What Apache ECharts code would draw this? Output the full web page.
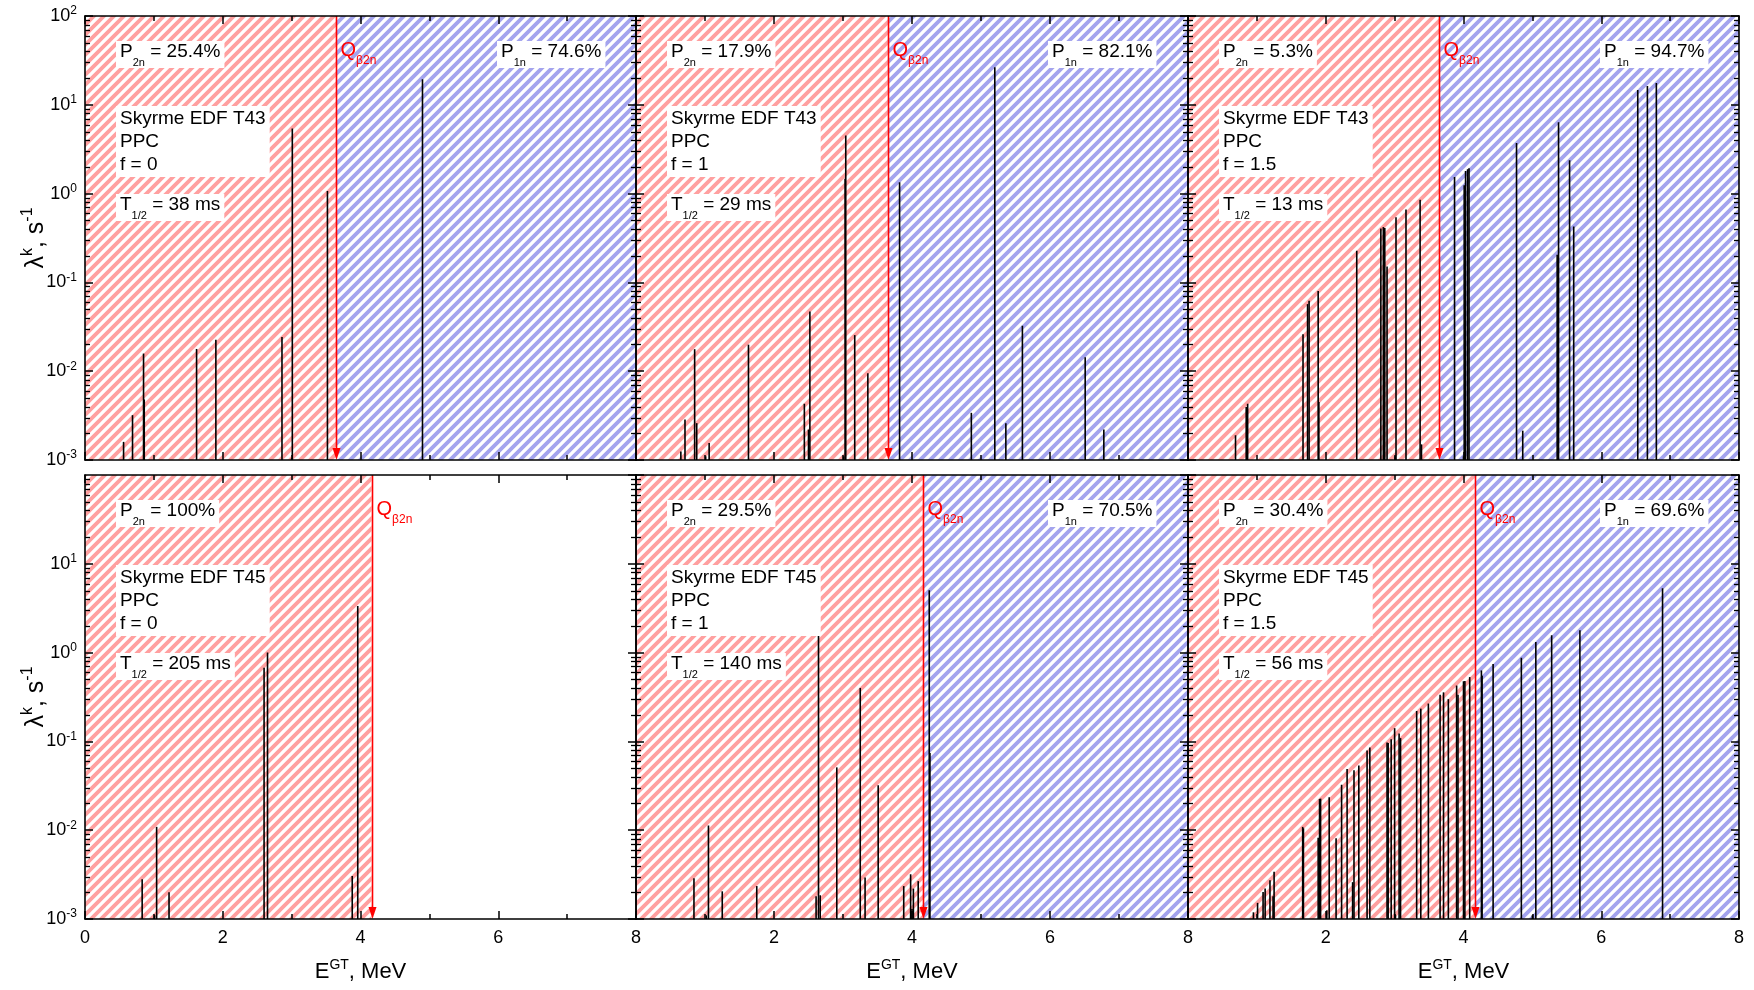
<!DOCTYPE html>
<html>
<head>
<meta charset="utf-8">
<title>GT decay rates</title>
<script src="https://cdn.jsdelivr.net/npm/echarts@6.0.0/dist/echarts.min.js"></script>
<style>
html,body{margin:0;padding:0;background:#ffffff;}
#chart{width:1754px;height:990px;}
</style>
</head>
<body>
<div id="chart"></div>
<script>
// ================= DATA =================
const xTicks = [0, 2, 4, 6, 8];
const yRange = [1e-3, 1e2];
const panelEdf = ['T43', 'T43', 'T43', 'T45', 'T45', 'T45'];
const panelF = ['0', '1', '1.5', '0', '1', '1.5'];
const panelP2n = ['25.4%', '17.9%', '5.3%', '100%', '29.5%', '30.4%'];
const panelP1n = ['74.6%', '82.1%', '94.7%', null, '70.5%', '69.6%'];
const panelHalfLife = ['38 ms', '29 ms', '13 ms', '205 ms', '140 ms', '56 ms'];
const qBeta2n = [3.65, 3.65, 3.65, 4.16, 4.16, 4.16];

// Skyrme EDF T43, f = 0
const energyT43f0 = [0.56, 0.69, 0.85, 0.86, 1.62, 1.90, 2.86, 3.00, 3.01, 3.52, 4.90];
const rateT43f0   = [1.6e-3, 3.2e-3, 0.0158, 4.8e-3, 0.0178, 0.0226, 0.0242, 1.05e-3, 5.4, 1.07, 19.4];
// Skyrme EDF T43, f = 1
const energyT43f1 = [0.65, 0.71, 0.85, 0.88, 1.01, 1.06, 1.63, 2.44, 2.50, 2.52, 3.01, 3.03, 3.04, 3.17, 3.36, 3.82, 4.86, 5.20, 5.36, 5.60, 6.51, 6.78];
const rateT43f1   = [1.25e-3, 2.85e-3, 0.0177, 2.6e-3, 1.1e-3, 1.55e-3, 0.0199, 4.3e-3, 2.2e-3, 0.047, 1.1e-3, 1.47, 4.5, 0.0255, 9.5e-3, 1.34, 3.4e-3, 26.4, 2.6e-3, 0.0325, 0.0144, 2.2e-3];
// Skyrme EDF T43, f = 1.5
const energyT43f15 = [0.69, 0.845, 0.866, 1.67, 1.736, 1.758, 1.89, 1.90, 2.45, 2.80, 2.836, 2.857, 2.89, 3.006, 3.02, 3.165, 3.37, 3.39, 3.87, 4.00, 4.01, 4.03, 4.06, 4.08, 4.77, 4.86, 5.36, 5.38, 5.54, 5.60, 6.53, 6.67, 6.80];
const rateT43f15   = [1.9e-3, 3.95e-3, 4.3e-3, 0.026, 0.057, 0.062, 0.080, 4.5e-3, 0.227, 0.405, 0.42, 0.41, 0.151, 1.1e-3, 0.54, 0.66, 0.85, 1.5e-3, 1.54, 1.1e-3, 1.24, 1.80, 1.88, 1.93, 3.72, 2.14e-3, 0.205, 6.36, 2.38, 0.426, 14.7, 16.3, 17.6];
// Skyrme EDF T45, f = 0
const energyT45f0 = [0.83, 1.01, 1.04, 1.22, 2.60, 2.65, 3.88, 3.96];
const rateT45f0   = [2.8e-3, 1.1e-3, 0.0109, 2.0e-3, 0.676, 1.0, 3.05e-3, 3.34];
// Skyrme EDF T45, f = 1
const energyT45f1 = [0.84, 1.02, 1.05, 1.25, 1.75, 2.61, 2.645, 2.67, 2.91, 3.25, 3.32, 3.51, 3.88, 3.98, 4.00, 4.02, 4.09, 4.25, 4.26];
const rateT45f1   = [2.87e-3, 1.1e-3, 0.0113, 2.05e-3, 2.35e-3, 1.8e-3, 1.63, 1.85e-3, 0.051, 0.40, 2.94e-3, 0.032, 2.35e-3, 3.19e-3, 1.3e-3, 2.2e-3, 2.67e-3, 5.05, 0.074];
// Skyrme EDF T45, f = 1.5
const energyT45f15 = [0.95, 1.01, 1.09, 1.12, 1.19, 1.235, 1.25, 1.665, 1.676, 1.89, 1.91, 1.925, 2.015, 2.05, 2.15, 2.23, 2.31, 2.39, 2.41, 2.48, 2.60, 2.64, 2.89, 2.906, 2.95, 3.00, 3.012, 3.065, 3.086, 3.32, 3.38, 3.49, 3.66, 3.71, 3.78, 3.90, 3.92, 4.00, 4.02, 4.09, 4.26, 4.27, 4.43, 4.84, 5.00, 5.05, 5.28, 5.69, 6.89];
const rateT45f15   = [1.19e-3, 1.52e-3, 2.02e-3, 2.2e-3, 2.74e-3, 1.8e-3, 3.4e-3, 0.0109, 0.0105, 8.2e-3, 0.0225, 0.0227, 1.25e-3, 0.0235, 8.1e-3, 0.0325, 0.0488, 2.6e-3, 0.0474, 0.0537, 0.0789, 0.0853, 0.0975, 0.096, 0.106, 0.141, 1.1e-3, 0.123, 0.109, 0.220, 0.234, 0.267, 0.336, 0.357, 0.299, 0.426, 0.336, 0.476, 0.48, 0.53, 0.63, 0.55, 0.745, 0.873, 1.1e-3, 1.32, 1.57, 1.79, 5.32];

const panelEnergies = [energyT43f0, energyT43f1, energyT43f15, energyT45f0, energyT45f1, energyT45f15];
const panelRates = [rateT43f0, rateT43f1, rateT43f15, rateT45f0, rateT45f1, rateT45f15];

// ================= LAYOUT / STYLE =================
const FONT = 'Liberation Sans';
const gridLefts = [85, 636, 1188];
const gridWidths = [551, 552, 551];
const gridTops = [16, 475];
const GRID_H = 444;
const RED = '#ff0000';

function makeHatch(color) {
  const c = document.createElement('canvas');
  c.width = 10; c.height = 10;
  const g = c.getContext('2d');
  g.strokeStyle = color;
  g.lineWidth = 3.8;
  g.beginPath();
  g.moveTo(-5, 15); g.lineTo(15, -5);
  g.moveTo(-5, 5); g.lineTo(5, -5);
  g.moveTo(5, 15); g.lineTo(15, 5);
  g.stroke();
  return c;
}
const redHatch = { image: makeHatch('#ffa0a0'), repeat: 'repeat' };
const blueHatch = { image: makeHatch('#a4a4ee'), repeat: 'repeat' };

const annRich = {
  m: { fontSize: 19, lineHeight: 24, verticalAlign: 'top', fontFamily: FONT, fill: '#000', color: '#000' },
  s: { fontSize: 11, lineHeight: 11, verticalAlign: 'top', padding: [15, 0, 0, 0], fontFamily: FONT, fill: '#000', color: '#000' },
  L: { fontSize: 19, lineHeight: 23, fontFamily: FONT, fill: '#000', color: '#000' },
  qm: { fontSize: 20, lineHeight: 24, verticalAlign: 'top', fontFamily: FONT, fill: RED, color: RED },
  qs: { fontSize: 12, lineHeight: 12, verticalAlign: 'top', padding: [15, 0, 0, 0], fontFamily: FONT, fill: RED, color: RED }
};
const labRich = {
  b: { fontSize: 18, lineHeight: 22, fontFamily: FONT, color: '#000' },
  e: { fontSize: 12, lineHeight: 12, verticalAlign: 'top', fontFamily: FONT, color: '#000' }
};
const nameRich = {
  g: { fontSize: 22, lineHeight: 28, fontFamily: FONT, color: '#000' },
  u: { fontSize: 14, lineHeight: 14, verticalAlign: 'top', fontFamily: FONT, color: '#000' }
};
const yNameRich = {
  g: { fontSize: 25, lineHeight: 32, fontFamily: FONT, color: '#000' },
  u: { fontSize: 16, lineHeight: 16, verticalAlign: 'top', fontFamily: FONT, color: '#000' }
};

const minorYVals = [];
for (let k = -3; k < 2; k++) for (let m = 2; m <= 9; m++) minorYVals.push(m * Math.pow(10, k));

const grids = [], xAxes = [], yAxes = [], series = [], graphics = [];
const axisLineStyle = { color: '#000', width: 1.6 };
const tickStyle = { color: '#000', width: 1.5 };

for (let i = 0; i < 6; i++) {
  const row = Math.floor(i / 3), col = i % 3;
  const gl = gridLefts[col], gt = gridTops[row];
  grids.push({ left: gl, top: gt, width: gridWidths[col], height: GRID_H, containLabel: false, outerBoundsMode: 'none', show: false });

  const xBase = {
    type: 'value', gridIndex: i, min: xTicks[0], max: xTicks[xTicks.length - 1], interval: xTicks[1] - xTicks[0],
    axisLine: { show: true, onZero: false, lineStyle: axisLineStyle },
    axisTick: { show: true, inside: true, length: 8, lineStyle: tickStyle },
    minorTick: { show: true, splitNumber: 2, length: 5, lineStyle: tickStyle },
    splitLine: { show: false }, minorSplitLine: { show: false }, z: 10
  };
  xAxes.push(Object.assign({}, xBase, {
    position: 'bottom',
    axisLabel: { show: row === 1, margin: 10, fontSize: 18, fontFamily: FONT, color: '#000', showMinLabel: col === 0, showMaxLabel: true },
    name: row === 1 ? '{g|E}{u|GT}{g|, MeV}' : '',
    nameLocation: 'middle', nameGap: 39, nameMoveOverlap: false,
    nameTextStyle: { rich: nameRich }
  }));
  xAxes.push(Object.assign({}, xBase, { position: 'top', axisLabel: { show: false } }));

  const yBase = {
    type: 'log', logBase: 10, gridIndex: i, min: yRange[0], max: yRange[1],
    axisLine: { show: true, onZero: false, lineStyle: axisLineStyle },
    axisTick: { show: true, inside: true, length: 8, lineStyle: tickStyle },
    minorTick: { show: false }, splitLine: { show: false }, minorSplitLine: { show: false }, z: 10
  };
  yAxes.push(Object.assign({}, yBase, {
    position: 'left',
    axisLabel: {
      show: col === 0, margin: 8, showMaxLabel: row === 0, showMinLabel: true,
      formatter: v => '{b|10}{e|' + Math.round(Math.log10(v)) + '}', rich: labRich
    },
    name: col === 0 ? '{g|λ}{u|k}{g|, s}{u|-1}' : '',
    nameLocation: 'middle', nameGap: 33, nameRotate: 90, nameMoveOverlap: false,
    nameTextStyle: { rich: yNameRich }
  }));
  yAxes.push(Object.assign({}, yBase, { position: 'right', axisLabel: { show: false } }));

  const xi = 2 * i, yi = 2 * i;
  const q = qBeta2n[i];

  const hatchRender = (pattern) => (params, api) => {
    const p0 = api.coord([api.value(0), yRange[1]]);
    const p1 = api.coord([api.value(1), yRange[0]]);
    return { type: 'rect', silent: true, shape: { x: p0[0], y: p0[1], width: p1[0] - p0[0], height: p1[1] - p0[1] }, style: { fill: pattern } };
  };
  series.push({ type: 'custom', name: 'beta2n region ' + i, xAxisIndex: xi, yAxisIndex: yi, z: 1, silent: true,
    data: [[xTicks[0], q]], renderItem: hatchRender(redHatch) });
  if (panelP1n[i] !== null) {
    series.push({ type: 'custom', name: 'beta1n region ' + i, xAxisIndex: xi, yAxisIndex: yi, z: 1, silent: true,
      data: [[q, xTicks[xTicks.length - 1]]], renderItem: hatchRender(blueHatch) });
  }
  // minor log ticks on left/right frame
  series.push({ type: 'custom', name: 'minor ticks ' + i, xAxisIndex: xi, yAxisIndex: yi, z: 11, silent: true,
    data: minorYVals.map(v => [xTicks[0], v]),
    renderItem: (params, api) => {
      const v = api.value(1);
      const pl = api.coord([xTicks[0], v]), pr = api.coord([xTicks[xTicks.length - 1], v]);
      const y = Math.round(pl[1]) + 0.5;
      return { type: 'group', children: [
        { type: 'line', shape: { x1: pl[0], y1: y, x2: pl[0] + 5, y2: y }, style: { stroke: '#000', lineWidth: 1.3 } },
        { type: 'line', shape: { x1: pr[0] - 5, y1: y, x2: pr[0], y2: y }, style: { stroke: '#000', lineWidth: 1.3 } }
      ] };
    } });
  // transition lines
  const en = panelEnergies[i], rt = panelRates[i];
  const n = Math.min(en.length, rt.length);
  const lines = [];
  for (let j = 0; j < n; j++) lines.push([en[j], rt[j]]);
  series.push({ type: 'custom', name: 'lambda ' + i, xAxisIndex: xi, yAxisIndex: yi, z: 5, silent: true,
    data: lines,
    renderItem: (params, api) => {
      const p = api.coord([api.value(0), api.value(1)]);
      const b = api.coord([api.value(0), yRange[0]]);
      return { type: 'line', shape: { x1: p[0], y1: b[1], x2: p[0], y2: p[1] }, style: { stroke: '#000', lineWidth: 1.6 } };
    } });
  // Q_beta2n arrow and label
  series.push({ type: 'custom', name: 'Qb2n ' + i, xAxisIndex: xi, yAxisIndex: yi, z: 6, silent: true,
    data: [[q, yRange[1]]],
    renderItem: (params, api) => {
      const t = api.coord([api.value(0), yRange[1]]);
      const b = api.coord([api.value(0), yRange[0]]);
      const x = Math.round(t[0]) + 0.5;
      return { type: 'group', children: [
        { type: 'line', shape: { x1: x, y1: t[1], x2: x, y2: b[1] - 8 }, style: { stroke: RED, lineWidth: 1.6 } },
        { type: 'polygon', shape: { points: [[x - 4, b[1] - 12], [x + 4, b[1] - 12], [x, b[1]]] }, style: { fill: RED } },
        { type: 'text', x: x + 4, y: t[1] + 24, style: { text: '{qm|Q}{qs|β2n}', rich: annRich, fill: RED, align: 'left', verticalAlign: 'top' } }
      ] };
    } });

  // annotation boxes
  graphics.push({ type: 'text', x: gl + 31, y: gt + 25, z: 100,
    style: { text: '{m|P}{s|2n}{m| = ' + panelP2n[i] + '}', rich: annRich, backgroundColor: '#fff', padding: [1, 4, 2, 4], align: 'left', verticalAlign: 'top' } });
  if (panelP1n[i] !== null) {
    graphics.push({ type: 'text', x: gl + 412, y: gt + 25, z: 100,
      style: { text: '{m|P}{s|1n}{m| = ' + panelP1n[i] + '}', rich: annRich, backgroundColor: '#fff', padding: [1, 4, 2, 4], align: 'left', verticalAlign: 'top' } });
  }
  graphics.push({ type: 'text', x: gl + 31, y: gt + 90, z: 100,
    style: { text: '{L|Skyrme EDF ' + panelEdf[i] + '}\n{L|PPC}\n{L|f = ' + panelF[i] + '}', rich: annRich, backgroundColor: '#fff', padding: [1, 4, 1, 4], align: 'left', verticalAlign: 'top' } });
  graphics.push({ type: 'text', x: gl + 31, y: gt + 178, z: 100,
    style: { text: '{m|T}{s|1/2}{m| = ' + panelHalfLife[i] + '}', rich: annRich, backgroundColor: '#fff', padding: [1, 4, 2, 4], align: 'left', verticalAlign: 'top' } });
}

const chart = echarts.init(document.getElementById('chart'), null, { renderer: 'canvas' });
chart.setOption({
  animation: false,
  backgroundColor: '#ffffff',
  textStyle: { fontFamily: FONT },
  grid: grids,
  xAxis: xAxes,
  yAxis: yAxes,
  series: series,
  graphic: graphics
});
</script>
</body>
</html>
